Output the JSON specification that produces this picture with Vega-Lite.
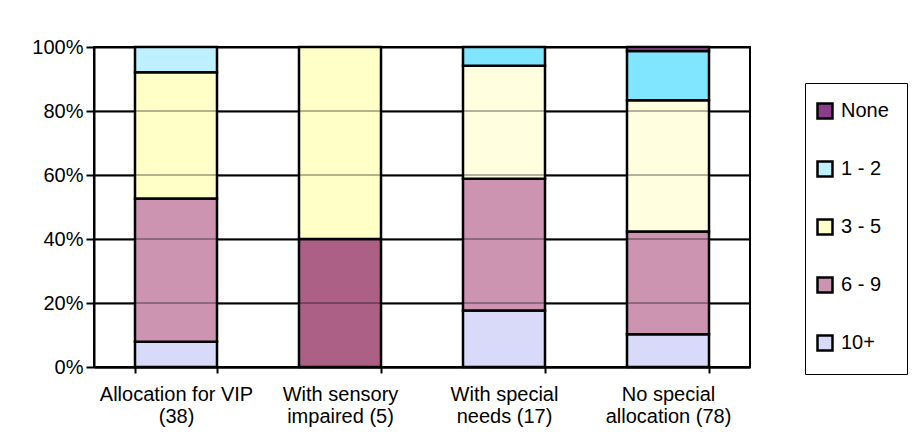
{
  "$schema": "https://vega.github.io/schema/vega-lite/v6.json",
  "width": 656,
  "height": 320,
  "autosize": {"type": "none"},
  "padding": {"left": 94, "top": 47, "right": 169, "bottom": 70},
  "background": "white",
  "layer": [
    {
      "data": {
        "values": [
          {"group": "Allocation for VIP (38)", "cat": "10+", "k": 1, "count": 3},
          {"group": "Allocation for VIP (38)", "cat": "6 - 9", "k": 2, "count": 17},
          {"group": "Allocation for VIP (38)", "cat": "3 - 5", "k": 3, "count": 15},
          {"group": "Allocation for VIP (38)", "cat": "1 - 2", "k": 4, "count": 3},
          {"group": "With sensory impaired (5)", "cat": "6 - 9", "k": 2, "count": 2},
          {"group": "With sensory impaired (5)", "cat": "3 - 5", "k": 3, "count": 3},
          {"group": "With special needs (17)", "cat": "10+", "k": 1, "count": 3},
          {"group": "With special needs (17)", "cat": "6 - 9", "k": 2, "count": 7},
          {"group": "With special needs (17)", "cat": "3 - 5", "k": 3, "count": 6},
          {"group": "With special needs (17)", "cat": "1 - 2", "k": 4, "count": 1},
          {"group": "No special allocation (78)", "cat": "10+", "k": 1, "count": 8},
          {"group": "No special allocation (78)", "cat": "6 - 9", "k": 2, "count": 25},
          {"group": "No special allocation (78)", "cat": "3 - 5", "k": 3, "count": 32},
          {"group": "No special allocation (78)", "cat": "1 - 2", "k": 4, "count": 12},
          {"group": "No special allocation (78)", "cat": "None", "k": 5, "count": 1}
        ]
      },
      "mark": {"type": "bar", "stroke": "black", "strokeWidth": 2.5},
      "encoding": {
        "x": {
          "field": "group",
          "type": "nominal",
          "sort": null,
          "scale": {"paddingInner": 0.5, "paddingOuter": 0.25},
          "axis": {
            "title": null,
            "labelAngle": 0,
            "labelFont": "Liberation Sans",
            "labelFontSize": 20,
            "labelColor": "black",
            "labelLineHeight": 22,
            "labelPadding": 11,
            "labelLimit": 300,
            "tickBand": "extent",
            "tickSize": 6,
            "tickColor": "black",
            "tickWidth": 2,
            "domainColor": "black",
            "domainWidth": 2,
            "grid": false,
            "labelExpr": "datum.value == 'Allocation for VIP (38)' ? ['Allocation for VIP', '(38)'] : datum.value == 'With sensory impaired (5)' ? ['With sensory', 'impaired (5)'] : datum.value == 'With special needs (17)' ? ['With special', 'needs (17)'] : datum.value == 'No special allocation (78)' ? ['No special', 'allocation (78)'] : ''"
          }
        },
        "y": {
          "field": "count",
          "type": "quantitative",
          "stack": "normalize",
          "scale": {"domain": [0, 1]},
          "axis": {
            "title": null,
            "values": [0, 0.2, 0.4, 0.6, 0.8, 1],
            "format": ".0%",
            "labelFont": "Liberation Sans",
            "labelFontSize": 20,
            "labelColor": "black",
            "labelPadding": 3,
            "tickSize": 8,
            "tickColor": "black",
            "tickWidth": 2,
            "domainColor": "black",
            "domainWidth": 2,
            "grid": true,
            "gridColor": "black",
            "gridWidth": 2,
            "gridOpacity": 1
          }
        },
        "color": {
          "field": "cat",
          "type": "nominal",
          "condition": [
            {"test": "datum.group == 'With sensory impaired (5)' && datum.cat == '6 - 9'", "value": "#ad6085"},
            {"test": "(datum.group == 'With special needs (17)' || datum.group == 'No special allocation (78)') && datum.cat == '3 - 5'", "value": "#ffffe0"},
            {"test": "(datum.group == 'With special needs (17)' || datum.group == 'No special allocation (78)') && datum.cat == '1 - 2'", "value": "#80e6ff"},
            {"test": "datum.cat == 'None'", "value": "#9a4f96"}
          ],
          "scale": {
            "domain": ["None", "1 - 2", "3 - 5", "6 - 9", "10+"],
            "range": ["#8b3d8b", "#bff0ff", "#ffffc8", "#cc94b0", "#d9d9f9"]
          },
          "legend": {
            "title": null,
            "orient": "none",
            "legendX": 711,
            "legendY": 36,
            "padding": 18,
            "strokeColor": "black",
            "fillColor": "white",
            "symbolType": "square",
            "symbolSize": 225,
            "symbolOffset": -8,
            "symbolStrokeColor": "black",
            "symbolStrokeWidth": 2.5,
            "symbolOpacity": 1,
            "labelFont": "Liberation Sans",
            "labelFontSize": 20,
            "labelColor": "black",
            "labelOffset": 6,
            "rowPadding": 32
          }
        },
        "order": {"field": "k", "type": "quantitative", "sort": "ascending"}
      }
    },
    {
      "data": {"values": [{"v": 0.2}, {"v": 0.4}, {"v": 0.6}, {"v": 0.8}]},
      "mark": {"type": "rule", "color": "black", "strokeWidth": 2, "opacity": 0.3},
      "encoding": {
        "y": {
          "field": "v",
          "type": "quantitative",
          "axis": {
            "title": null,
            "values": [0, 0.2, 0.4, 0.6, 0.8, 1],
            "format": ".0%",
            "labelFont": "Liberation Sans",
            "labelFontSize": 20,
            "labelColor": "black",
            "labelPadding": 3,
            "tickSize": 8,
            "tickColor": "black",
            "tickWidth": 2,
            "domainColor": "black",
            "domainWidth": 2,
            "grid": true,
            "gridColor": "black",
            "gridWidth": 2,
            "gridOpacity": 1
          }
        }
      }
    }
  ],
  "config": {
    "view": {"stroke": "black", "strokeWidth": 2},
    "font": "Liberation Sans"
  }
}
